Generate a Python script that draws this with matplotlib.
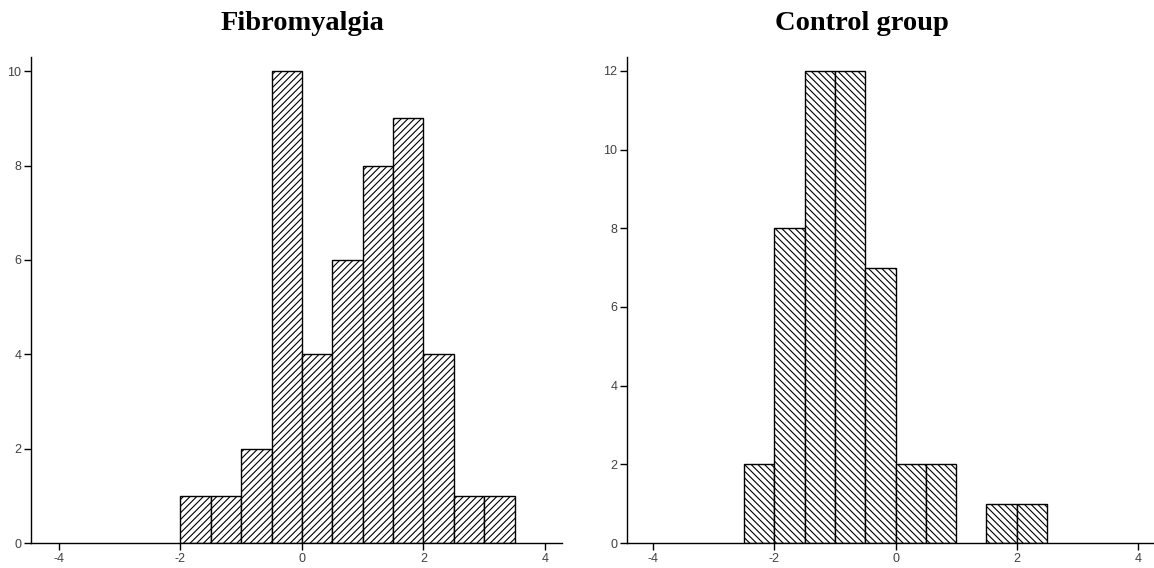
import numpy as np
import matplotlib
matplotlib.use('Agg')
import matplotlib.pyplot as plt

# histogram data (bin edges step 0.5)
fibro_edges = [-2.0, -1.5, -1.0, -0.5, 0.0, 0.5, 1.0, 1.5, 2.0, 2.5, 3.0, 3.5]
fibro_counts = [1, 1, 2, 10, 4, 6, 8, 9, 4, 1, 1]

control_edges = [-2.5, -2.0, -1.5, -1.0, -0.5, 0.0, 0.5, 1.0, 1.5, 2.0, 2.5]
control_counts = [2, 8, 12, 12, 7, 2, 2, 0, 1, 1]

xticks = [-4, -2, 0, 2, 4]

plt.rcParams['hatch.linewidth'] = 0.8
plt.rcParams['hatch.color'] = '#3a3a3a'

fig = plt.figure(figsize=(11.54, 5.68), dpi=100)
ax1 = fig.add_axes([0.0269, 0.044, 0.4601, 0.8556])
ax2 = fig.add_axes([0.5433, 0.044, 0.4560, 0.8556])


def draw_hist(ax, edges, counts, hatch, yticks, ylim, xlim):
    edges = np.array(edges)
    widths = np.diff(edges)
    for left, w, c in zip(edges[:-1], widths, counts):
        if c == 0:
            continue
        ax.bar(left, c, width=w, align='edge', color='white',
               edgecolor='black', linewidth=1.0, hatch=hatch)
    ax.set_xlim(*xlim)
    ax.set_ylim(*ylim)
    ax.set_xticks(xticks)
    ax.set_yticks(yticks)
    ax.set_xticklabels([str(t) for t in xticks])
    ax.set_yticklabels([str(t) for t in yticks])
    for s in ['top', 'right']:
        ax.spines[s].set_visible(False)
    for s in ['left', 'bottom']:
        ax.spines[s].set_linewidth(1.0)
    ax.tick_params(axis='both', direction='out', length=5, width=1.0,
                   labelsize=9, labelcolor='#404040', pad=2,
                   labelfontfamily='Liberation Sans')


draw_hist(ax1, fibro_edges, fibro_counts, '/////', [0, 2, 4, 6, 8, 10],
          (0, 10.3), (-4.46, 4.28))
draw_hist(ax2, control_edges, control_counts, '\\\\\\\\\\', [0, 2, 4, 6, 8, 10, 12],
          (0, 12.35), (-4.43, 4.25))

fig.text(0.262, 0.958, 'Fibromyalgia', ha='center', va='center',
         fontsize=20.5, fontweight='bold', family='Liberation Serif')
fig.text(0.747, 0.958, 'Control group', ha='center', va='center',
         fontsize=20.5, fontweight='bold', family='Liberation Serif')

fig.savefig('out.png', dpi=100)
